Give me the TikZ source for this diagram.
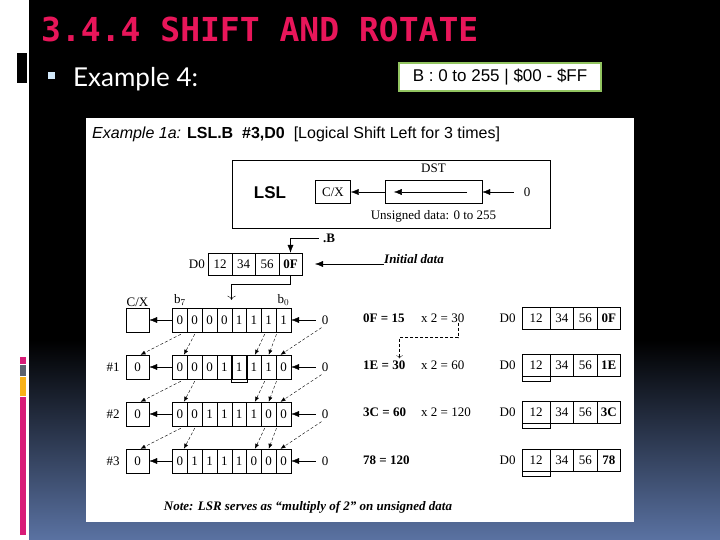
\documentclass[tikz,border=0pt]{standalone}
\usepackage{fontspec}
\setmainfont{Liberation Serif}
\newfontfamily\arialfont{Liberation Sans}
\newfontfamily\titlemono{DejaVu Sans Mono}
\newfontfamily\slidesans{Lato}
\usetikzlibrary{arrows.meta,positioning}

\definecolor{titlered}{RGB}{232,22,90}
\definecolor{bulletblue}{RGB}{210,232,250}
\definecolor{boxgreen}{RGB}{146,196,96}
\definecolor{slatebottom}{RGB}{90,114,162}
\definecolor{barpink}{RGB}{216,28,120}
\definecolor{bargray}{RGB}{92,98,110}
\definecolor{barorange}{RGB}{248,178,24}

\tikzset{
  bitcell/.style={draw, minimum width=14.8pt, minimum height=24pt, inner sep=0pt},
  bytecell/.style={draw, minimum width=23.5pt, minimum height=22pt, inner sep=0pt},
  cxbox/.style={draw, minimum width=23pt, minimum height=24pt, inner sep=0pt},
  shiftarrow/.style={-{Latex[length=8pt,width=6pt]}},
  movearrow/.style={densely dashed, -{Latex[length=5pt,width=4pt]}},
}

\begin{document}
\begin{tikzpicture}[x=1pt, y=-1pt, font=\fontsize{13}{15}\selectfont, inner sep=0pt]
  \useasboundingbox (0,0) rectangle (720,540);
  % Slide background
  \fill[white] (0,0) rectangle (720,540);
  \fill[black] (29,0) rectangle (720,341);
  \shade[top color=black, bottom color=slatebottom] (29,340) rectangle (720,540);
  \fill[black] (17,53) rectangle (27,83);
  % Colour bar on the left
  \fill[barpink] (20,357) rectangle (26,364);
  \fill[bargray] (20,365) rectangle (26,376);
  \fill[barorange] (20,377) rectangle (26,396);
  \fill[barpink] (20,397) rectangle (26,535);
  % Title and bullet
  \node[anchor=base west, text=titlered, font=\titlemono\bfseries\fontsize{33}{33}\selectfont] (title) at (41,42) {3.4.4 SHIFT AND ROTATE};
  \fill[bulletblue] (48,72) rectangle (55,79);
  \node[anchor=base west, text=white, font=\slidesans\fontsize{26}{26}\selectfont] (example) at (73,87) {Example 4:};
  \node[draw=boxgreen, line width=2.5pt, fill=white, minimum width=202pt, minimum height=28pt,
        font=\arialfont\fontsize{17}{17}\selectfont] (range) at (500,77) {B : 0 to 255 | \$00 - \$FF};
  % White panel
  \fill[white] (86,118) rectangle (634,522);
  \node[anchor=base west, font=\arialfont\fontsize{16}{16}\selectfont] (head) at (92,139)
    {\textit{Example 1a:} \textbf{LSL.B\ \ \#3,D0}\ \ [Logical Shift Left for 3 times]};
  % LSL operation box
  \node[draw, minimum width=318pt, minimum height=68pt, anchor=north west] (lslbox) at (232,160) {};
  \node[font=\arialfont\bfseries\fontsize{17}{17}\selectfont] (lsl) at (270,193) {LSL};
  \node[draw, minimum width=35pt, minimum height=23pt] (cxop) at (333,192) {C/X};
  \node[draw, minimum width=97pt, minimum height=23pt] (dst) at (433.5,192) {};
  \node[above=7pt of dst] (dstlbl) {DST};
  \node[below=7pt of dst] (unsig) {Unsigned data: 0 to 255};
  \node (zop) at (527,192) {0};
  \draw[shiftarrow] ([xshift=-15pt]dst.east) -- ([xshift=9pt]dst.west);
  \draw[shiftarrow] (dst.west) -- (cxop.east);
  \draw[shiftarrow] ([xshift=-10pt]zop.west) -- (dst.east);
  % Initial D0
  \node[bytecell] (t1) at (220,264) {12};
  \node[bytecell] (t2) at (243.5,264) {34};
  \node[bytecell] (t3) at (267,264) {56};
  \node[bytecell] (t4) at (290.5,264) {\textbf{0F}};
  \node[left=3pt of t1] (d0top) {D0};
  \node (dotb) at (329,238) {\textbf{.B}};
  \draw[shiftarrow] ([xshift=-4pt]dotb.west) -| (t4.north);
  \node[anchor=south west] (init) at (384,264) {\textbf{\textit{Initial data}}};
  \coordinate (initend) at (315,264);
  \draw[shiftarrow] (init.south west) -- (initend);
  % Bit rows
  \foreach \r/\y/\bits in {0/320/{0,0,0,0,1,1,1,1}, 1/367/{0,0,0,1,1,1,1,0},
                           2/414/{0,0,1,1,1,1,0,0}, 3/461/{0,1,1,1,1,0,0,0}} {
    \foreach \b [count=\i] in \bits {
      \node[bitcell] (r\r-\i) at ({172.5+7.4+14.8*(\i-1)},\y) {\b};
    }
    \node (z\r) at (325,\y) {0};
    \draw[shiftarrow] ([xshift=-6pt]z\r.west) -- (r\r-8.east);
  }
  \draw[-{To[length=4pt]}] (t4.south) -- ++(0,9) -| ([yshift=8pt]r0-5.north west);
  \node[cxbox] (cx0) at (137.5,320) {};
  \node[cxbox] (cx1) at (137.5,367) {0};
  \node[cxbox] (cx2) at (137.5,414) {0};
  \node[cxbox] (cx3) at (137.5,461) {0};
  \draw (r1-5.north west) rectangle ([yshift=-3pt]r1-5.south east);
  \node[above=1pt of cx0] (cxlbl) {C/X};
  \node[above=2pt of r0-1] (b7) {b$_7$};
  \node[above=2pt of r0-8] (b0) {b$_0$};
  \node (n1) at (113,367) {\#1};
  \node (n2) at (113,414) {\#2};
  \node (n3) at (113,461) {\#3};
  \foreach \r in {0,1,2,3} {
    \draw[shiftarrow] (r\r-1.west) -- (cx\r.east);
  }
  % Moved bits
  \foreach \r/\s in {0/1,1/2,2/3} {
    \draw[movearrow] ([xshift=1pt,yshift=-2pt]r\r-1.south) -- ([xshift=3pt]cx\s.north);
    \draw[movearrow] ([yshift=-2pt]r\r-2.south) -- ([xshift=4pt]r\s-1.north);
    \draw[movearrow] ([xshift=-4pt,yshift=-2pt]r\r-7.south) -- ([xshift=1pt]r\s-6.north);
    \draw[movearrow] ([xshift=-7pt,yshift=-2pt]r\r-8.south) -- (r\s-7.north);
    \draw[movearrow] ([yshift=-3pt]z\r.south west) -- ([xshift=-3pt]r\s-8.north);
  }
  % Values
  \node[anchor=west] (eq0) at (363,318) {\textbf{0F = 15}};
  \node[anchor=west] (mul0) at (421,318) {x 2 = 30};
  \node[anchor=west] (eq1) at (363,365) {\textbf{1E = 30}};
  \node[anchor=west] (mul1) at (421,365) {x 2 = 60};
  \node[anchor=west] (eq2) at (363,412) {\textbf{3C = 60}};
  \node[anchor=west] (mul2) at (421,412) {x 2 = 120};
  \node[anchor=west] (eq3) at (363,460) {\textbf{78 = 120}};
  \draw[densely dashed, -{To[length=3pt]}] ([xshift=-6pt]mul0.south east) -- ++(0,15) -| ([xshift=-6pt,yshift=2pt]eq1.north east);
  % D0 after each shift
  \foreach \r/\y/\v in {0/318/0F, 1/365/1E, 2/412/3C, 3/460/78} {
    \node[bytecell, minimum width=28pt] (d\r-1) at (536,\y) {12};
    \node[bytecell] (d\r-2) at (561.75,\y) {34};
    \node[bytecell] (d\r-3) at (585.25,\y) {56};
    \node[bytecell] (d\r-4) at (608.75,\y) {\textbf{\v}};
    \node[left=6pt of d\r-1] (dl\r) {D0};
  }
  \draw (d1-1.north west) rectangle ([yshift=-5pt]d1-1.south east);
  \draw (d2-1.north west) rectangle ([yshift=-5pt]d2-1.south east);
  \draw (d3-1.north west) rectangle ([yshift=-5pt]d3-1.south east);
  % Note
  \node (note) at (308,507) {\textbf{\textit{Note: LSR serves as ``multiply of 2'' on unsigned data}}};
\end{tikzpicture}
\end{document}
